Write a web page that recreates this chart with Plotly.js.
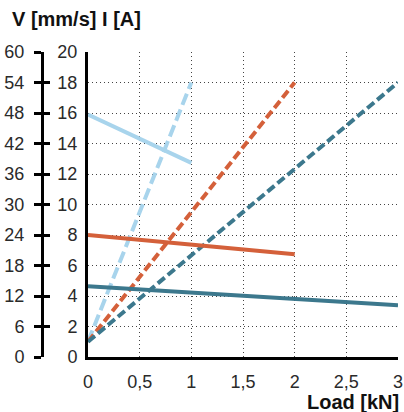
<!DOCTYPE html>
<html>
<head>
<meta charset="utf-8">
<script src="https://cdn.plot.ly/plotly-3.0.1.min.js"></script>
<style>html,body{margin:0;padding:0;background:#fff;}#chart{width:404px;height:412px;}</style>
</head>
<body>
<div id="chart"></div>
<script>
// Load [kN] end points of each series
const loadLight = [0, 1];
const loadOrange = [0, 2];
const loadTeal = [0, 3];
// Current I [A] (dashed lines)
const currentLight = [1, 18];
const currentOrange = [1, 18];
const currentTeal = [1, 18];
// Speed V [mm/s] (solid lines)
const speedLight = [47.7, 38.2];
const speedOrange = [24, 20.2];
const speedTeal = [13.9, 10.2];
// Axis ticks
const xTicks = [0, 0.5, 1, 1.5, 2, 2.5, 3];
const xTickText = ['0', '0,5', '1', '1,5', '2', '2,5', '3'];
const iTicks = [0,2,4,6,8,10,12,14,16,18,20];
const vTicks = [0,6,12,18,24,30,36,42,48,54,60];

const cLight = '#a8d4ec', cOrange = '#d4603a', cTeal = '#3c788d';
const R = 6, W = 404 - R, plotTop = 52, plotBottom = 357, plotH = plotBottom - plotTop;
const font = {family: 'Liberation Sans, Arial, sans-serif', size: 18, color: '#2a2a2a'};

const traces = [
  {x: loadLight, y: speedLight, yaxis: 'y2', mode: 'lines', line: {color: cLight, width: 4}},
  {x: loadOrange, y: speedOrange, yaxis: 'y2', mode: 'lines', line: {color: cOrange, width: 4}},
  {x: loadTeal, y: speedTeal, yaxis: 'y2', mode: 'lines', line: {color: cTeal, width: 4}},
  {x: loadLight, y: currentLight, yaxis: 'y', mode: 'lines', line: {color: cLight, width: 4, dash: '12px,5px'}},
  {x: loadOrange, y: currentOrange, yaxis: 'y', mode: 'lines', line: {color: cOrange, width: 4, dash: '9px,4px'}},
  {x: loadTeal, y: currentTeal, yaxis: 'y', mode: 'lines', line: {color: cTeal, width: 4, dash: '9px,4px'}},
  {x: [0], y: [0], yaxis: 'y3', mode: 'markers', marker: {opacity: 0}, hoverinfo: 'skip'}
];

const layout = {
  width: 404, height: 412,
  margin: {l: 0, r: R, t: plotTop, b: 412 - plotBottom},
  paper_bgcolor: '#fff', plot_bgcolor: '#fff',
  showlegend: false,
  separators: ',.',
  font: font,
  xaxis: {
    domain: [88 / W, 1], range: [0, 3], tickvals: xTicks, ticktext: xTickText,
    showline: true, linewidth: 3, linecolor: '#000', zeroline: false,
    showgrid: true, gridcolor: '#444', gridwidth: 1, griddash: '1px,3px',
    ticks: '', ticklabelstandoff: 6, tickfont: font, ticklabeloverflow: 'allow'
  },
  yaxis: {
    range: [0, 20], tickvals: iTicks, ticktext: iTicks.map(String),
    showline: true, linewidth: 3, linecolor: '#000', zeroline: false,
    showgrid: true, gridcolor: '#444', gridwidth: 1, griddash: '1px,3px',
    ticks: '', ticklabelstandoff: 4, tickfont: font
  },
  yaxis2: {
    overlaying: 'y', anchor: 'free', position: 42 / W, side: 'left',
    range: [0, 60], tickvals: vTicks, ticktext: vTicks.map(String),
    showline: true, linewidth: 3, linecolor: '#000', zeroline: false, showgrid: false,
    ticks: 'outside', ticklen: 7, tickwidth: 3, tickcolor: '#000',
    ticklabelstandoff: 6, tickfont: font
  },
  yaxis3: {
    overlaying: 'y', anchor: 'free', position: 42 / W, side: 'left',
    range: [0, 60], tickvals: vTicks, showticklabels: false,
    showline: false, zeroline: false, showgrid: false,
    ticks: 'inside', ticklen: 7, tickwidth: 3, tickcolor: '#000'
  },
  annotations: [
    {text: '<b>V [mm/s] I [A]</b>', xref: 'paper', yref: 'paper',
     x: 10 / W, y: 1 + (plotTop - 19) / plotH, xanchor: 'left', yanchor: 'middle',
     showarrow: false, font: {family: font.family, size: 20, color: '#111'}},
    {text: '<b>Load [kN]</b>', xref: 'paper', yref: 'paper',
     x: 401 / W, y: -(402 - plotBottom) / plotH, xanchor: 'right', yanchor: 'middle',
     showarrow: false, font: {family: font.family, size: 20, color: '#111'}}
  ]
};

Plotly.newPlot('chart', traces, layout, {displayModeBar: false, staticPlot: true});
</script>
</body>
</html>
